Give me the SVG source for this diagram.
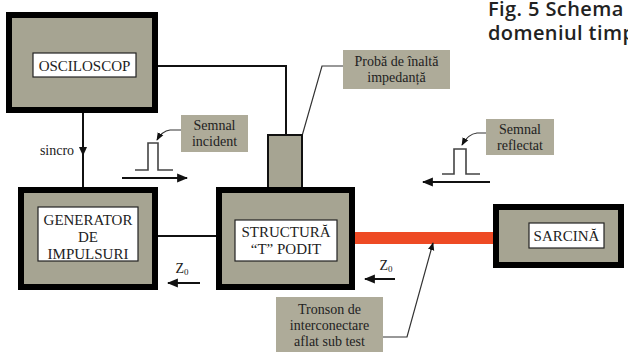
<svg xmlns="http://www.w3.org/2000/svg" width="628" height="352" viewBox="0 0 628 352">
<defs>
<style>
.blk{fill:#a6a492;stroke:#000;stroke-width:6}
.lbl{fill:#fff;stroke:#222;stroke-width:1.2}
.note{fill:#aeab99;stroke:none}
.t{font-family:"Liberation Serif","Times New Roman",serif;font-size:15px;fill:#222;text-anchor:middle}
.s{font-family:"Liberation Serif","Times New Roman",serif;font-size:14px;fill:#222;text-anchor:middle}
.ln{fill:none;stroke:#111;stroke-width:2}
.thin{fill:none;stroke:#333;stroke-width:1.2}
.pulse{fill:none;stroke:#444;stroke-width:1.6}
.cap{font-family:"Open Sans","Noto Sans",sans-serif;font-size:20px;font-weight:600;fill:#222;letter-spacing:0.4px}
</style>
<marker id="ah" viewBox="0 0 10 10" refX="9" refY="5" markerWidth="8" markerHeight="8" markerUnits="userSpaceOnUse" orient="auto">
<path d="M0,1 L10,5 L0,9 Z" fill="#111"/>
</marker>
<marker id="ab" viewBox="0 0 10 10" refX="9" refY="5" markerWidth="11" markerHeight="11" markerUnits="userSpaceOnUse" orient="auto">
<path d="M0,1 L10,5 L0,9 Z" fill="#111"/>
</marker>
</defs>

<text class="cap" x="488" y="16">Fig. 5 Schema</text>
<text class="cap" x="488" y="40">domeniul timp</text>

<g id="connectors">
<polyline class="ln" points="158,66 286,66 286,135"/>
<line class="ln" x1="83" y1="113" x2="83" y2="187"/>
<path d="M79,147 L87,147 L83,156 Z" fill="#111"/>
<line class="ln" x1="158" y1="236" x2="216" y2="236"/>
<rect x="355" y="232" width="138" height="12" fill="#ee4a24"/>
<polyline class="thin" points="343,66 322,66 294,164" marker-end="url(#ah)"/>
<path class="thin" d="M181,130 L170,130 Q162,131 157,140" marker-end="url(#ah)"/>
<path class="thin" d="M486,133 L477,133 Q468,134 462,145" marker-end="url(#ah)"/>
<polyline class="thin" points="383,337 407,337 433,243" marker-end="url(#ah)"/>
<line class="ln" x1="122" y1="178" x2="187" y2="178" marker-end="url(#ab)"/>
<line class="ln" x1="490" y1="182" x2="423" y2="182" marker-end="url(#ab)"/>
<line class="ln" x1="200" y1="283" x2="168" y2="283" marker-end="url(#ab)"/>
<line class="ln" x1="395" y1="279" x2="365" y2="279" marker-end="url(#ab)"/>
</g>

<g id="pulse-incident">
<polyline class="pulse" points="135,170 148,170 148,143 158,143 158,170 173,170"/>
</g>
<g id="pulse-reflectat">
<polyline class="pulse" points="442,174 454,174 454,149 466,149 466,174 480,174"/>
</g>

<g id="osciloscop">
<rect class="blk" x="9" y="15" width="146" height="95"/>
<rect class="lbl" x="33" y="53" width="103" height="24"/>
<text class="t" x="84.5" y="71">OSCILOSCOP</text>
</g>

<g id="proba">
<rect x="268" y="135" width="34" height="55" fill="#a6a492" stroke="#111" stroke-width="2"/>
</g>

<g id="generator">
<rect class="blk" x="21" y="190" width="134" height="97"/>
<rect class="lbl" x="38" y="207" width="100" height="54"/>
<text class="t" x="88" y="225">GENERATOR</text>
<text class="t" x="88" y="242">DE</text>
<text class="t" x="88" y="259">IMPULSURI</text>
</g>

<g id="structura">
<rect class="blk" x="219" y="190" width="133" height="97"/>
<rect class="lbl" x="235" y="220" width="102" height="41"/>
<text class="t" x="286" y="237">STRUCTURĂ</text>
<text class="t" x="286" y="254">“T” PODIT</text>
</g>

<g id="sarcina">
<rect class="blk" x="496" y="207" width="125" height="58"/>
<rect class="lbl" x="529" y="223" width="75" height="25"/>
<text class="t" x="566.5" y="241">SARCINĂ</text>
</g>

<g id="sincro">
<text class="s" x="57" y="155">sincro</text>
</g>

<g id="semnal-incident">
<rect class="note" x="181" y="115" width="67" height="37"/>
<text class="s" x="214.5" y="130">Semnal</text>
<text class="s" x="214.5" y="146">incident</text>
</g>

<g id="semnal-reflectat">
<rect class="note" x="486" y="119" width="68" height="36"/>
<text class="s" x="520" y="134">Semnal</text>
<text class="s" x="520" y="150">reflectat</text>
</g>

<g id="proba-label">
<rect class="note" x="343" y="50" width="107" height="39"/>
<text class="s" x="396.5" y="66" font-size="15">Probă de înaltă</text>
<text class="s" x="396.5" y="82" font-size="15">impedanță</text>
</g>

<g id="tronson">
<rect class="note" x="276" y="297" width="107" height="55"/>
<text class="s" x="329.5" y="314">Tronson de</text>
<text class="s" x="329.5" y="330">interconectare</text>
<text class="s" x="329.5" y="346">aflat sub test</text>
</g>

<g id="z0-left">
<text class="s" x="182" y="273" text-anchor="start">Z<tspan font-size="9" dy="2">0</tspan></text>
</g>
<g id="z0-right">
<text class="s" x="386" y="270" text-anchor="start">Z<tspan font-size="9" dy="2">0</tspan></text>
</g>
</svg>
